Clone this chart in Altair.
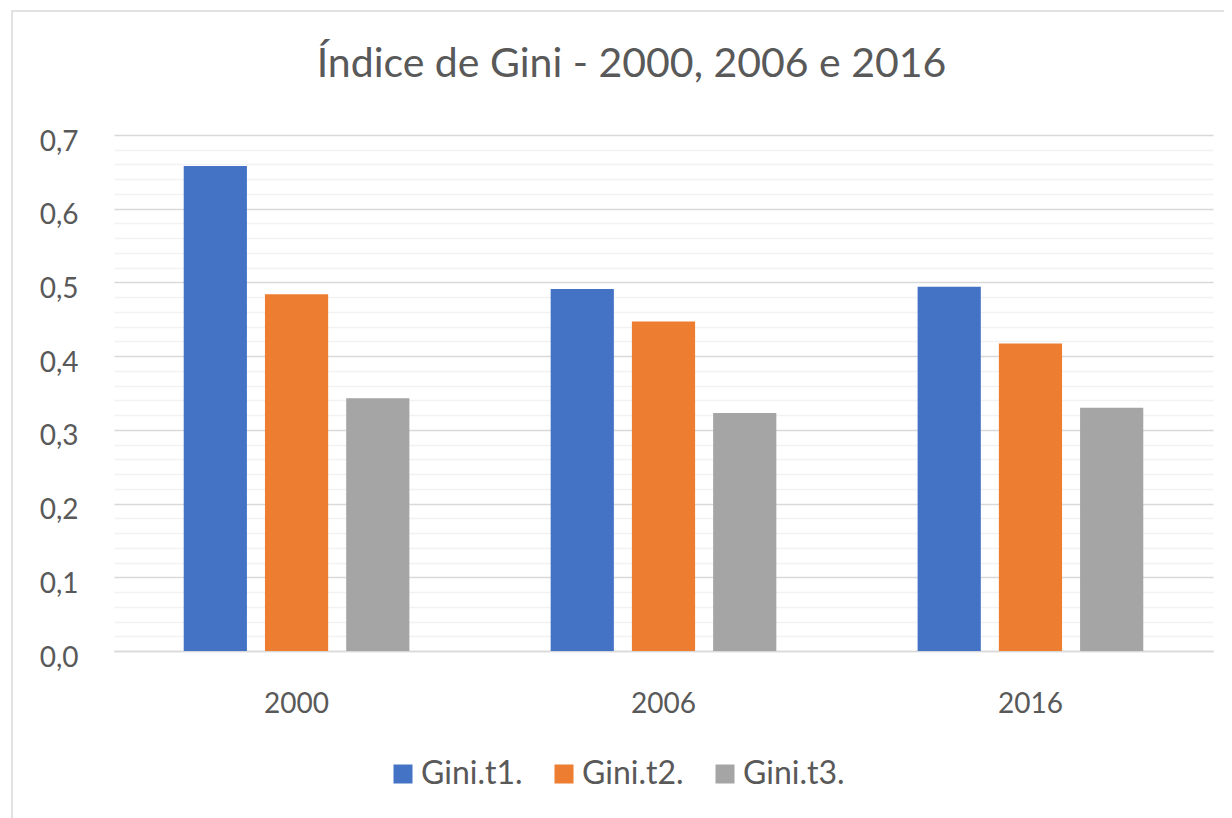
import altair as alt
import pandas as pd

years = ["2000", "2006", "2016"]
series = ["Gini.t1.", "Gini.t2.", "Gini.t3."]
gini_t1 = [0.658, 0.491, 0.494]
gini_t2 = [0.484, 0.447, 0.417]
gini_t3 = [0.343, 0.323, 0.330]
colors = ["#4472C4", "#ED7D31", "#A5A5A5"]
y_ticks = [0.0, 0.02, 0.04, 0.06, 0.08, 0.1, 0.12, 0.14, 0.16, 0.18,
           0.2, 0.22, 0.24, 0.26, 0.28, 0.3, 0.32, 0.34, 0.36, 0.38,
           0.4, 0.42, 0.44, 0.46, 0.48, 0.5, 0.52, 0.54, 0.56, 0.58,
           0.6, 0.62, 0.64, 0.66, 0.68, 0.7]

rows = []
for s, vals in zip(series, [gini_t1, gini_t2, gini_t3]):
    for yv, v in zip(years, vals):
        rows.append({"year": yv, "series": s, "value": v})
df = pd.DataFrame(rows)

FONT = "Lato"
TXT = "#595959"
W, H = 1099, 516

major = "round(datum.value*100) % 10 === 0"

bars = alt.Chart(df).mark_bar().encode(
    x=alt.X("year:N", sort=years,
            scale=alt.Scale(paddingInner=0.385, paddingOuter=0.19),
            axis=alt.Axis(title=None, labelAngle=0, ticks=False,
                          domainColor="#d9d9d9", domainWidth=1.5,
                          labelFont=FONT, labelFontSize=28, labelColor=TXT,
                          labelPadding=39)),
    xOffset=alt.XOffset("series:N", sort=series,
                        scale=alt.Scale(paddingInner=0.222, paddingOuter=0)),
    y=alt.Y("value:Q",
            scale=alt.Scale(domain=[0, 0.7], nice=False),
            axis=alt.Axis(title=None, values=y_ticks, ticks=False, domain=False,
                          grid=True, gridWidth=1.5,
                          gridColor={"condition": {"test": major, "value": "#d9d9d9"},
                                     "value": "#f2f2f2"},
                          labelExpr=major + " ? replace(format(datum.value, '.1f'), '.', ',') : ''",
                          labelOverlap=False, labelFont=FONT, labelFontSize=28,
                          labelColor=TXT, labelPadding=36, labelOffset=7)),
    color=alt.Color("series:N",
                    scale=alt.Scale(domain=series, range=colors),
                    legend=alt.Legend(title=None, orient="none", direction="horizontal",
                                      legendX=273, legendY=623,
                                      symbolType="square", symbolSize=361,
                                      symbolStrokeWidth=0, labelOffset=2,
                                      columnPadding=25, padding=0,
                                      labelFont=FONT, labelFontSize=32,
                                      labelColor=TXT)),
)

border = alt.Chart(pd.DataFrame({"k": [0]})).mark_rect(
    fillOpacity=0, stroke="#d9d9d9", strokeWidth=1.5, clip=False
).encode(
    x=alt.value(-102), x2=alt.value(W + 40),
    y=alt.value(-124), y2=alt.value(H + 220),
)

chart = alt.layer(border, bars).properties(
    width=W, height=H,
    title=alt.TitleParams("Índice de Gini - 2000, 2006 e 2016",
                          font=FONT, fontSize=41, fontWeight="normal",
                          color=TXT, anchor="middle", frame="group",
                          dx=-32, offset=-76),
    autosize=alt.AutoSizeParams(type="none"),
    padding={"left": 106, "top": 127, "right": 11, "bottom": 167},
    background="white",
).configure_view(strokeWidth=0)

chart.save("out.html", embed_options={"renderer": "svg", "actions": False})
